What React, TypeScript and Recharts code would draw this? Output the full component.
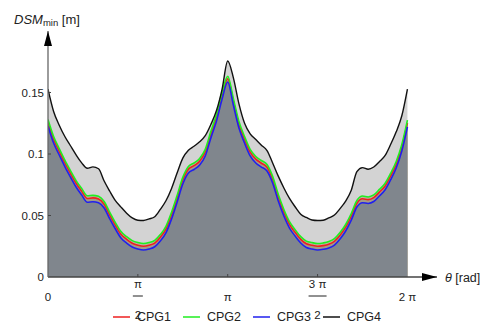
import { Area, ComposedChart, Legend, Line, XAxis, YAxis } from "recharts";

// DSM_min [m] sampled every π/32 over 0..2π (65 points)
const cpg4 = [
  0.1528, 0.1346, 0.1234, 0.1142, 0.1067, 0.0993, 0.0928, 0.0884, 0.0895,
  0.088, 0.078, 0.0697, 0.0621, 0.0568, 0.0519, 0.048, 0.0461, 0.0459,
  0.0472, 0.049, 0.055, 0.062, 0.072, 0.0847, 0.0966, 0.103, 0.1063, 0.1099,
  0.1149, 0.124, 0.1353, 0.1528, 0.1756, 0.1621, 0.1408, 0.125, 0.1164,
  0.1118, 0.1072, 0.1028, 0.0927, 0.082, 0.0724, 0.0639, 0.0571, 0.0511,
  0.0484, 0.0463, 0.0459, 0.0461, 0.048, 0.0504, 0.0556, 0.0617, 0.0706,
  0.0857, 0.0889, 0.0876, 0.0894, 0.0937, 0.0986, 0.1077, 0.118, 0.1311,
  0.1528,
];

const cpg3 = [
  0.1228, 0.1089, 0.0992, 0.0898, 0.0813, 0.0732, 0.0667, 0.0608, 0.0612,
  0.0603, 0.0561, 0.0472, 0.039, 0.0317, 0.0276, 0.0244, 0.0228, 0.022,
  0.0228, 0.0246, 0.0293, 0.0358, 0.0472, 0.061, 0.0756, 0.0846, 0.0874,
  0.0911, 0.0984, 0.113, 0.1268, 0.1447, 0.1585, 0.1398, 0.1211, 0.1089,
  0.0984, 0.0927, 0.0894, 0.0862, 0.0764, 0.0618, 0.0496, 0.0398, 0.0333,
  0.0276, 0.024, 0.0228, 0.022, 0.0225, 0.0236, 0.026, 0.0309, 0.0374,
  0.0463, 0.0569, 0.0604, 0.0598, 0.0614, 0.0659, 0.0707, 0.0789, 0.0886,
  0.1024, 0.122,
];

const cpg1 = [
  0.1258, 0.112, 0.1022, 0.0928, 0.0843, 0.0762, 0.0697, 0.0638, 0.0643,
  0.0634, 0.0592, 0.0503, 0.042, 0.0347, 0.0306, 0.0274, 0.0258, 0.025,
  0.0258, 0.0276, 0.0323, 0.039, 0.0505, 0.0643, 0.0788, 0.0877, 0.0905,
  0.0942, 0.1016, 0.1162, 0.13, 0.1478, 0.1612, 0.143, 0.1243, 0.112,
  0.1015, 0.0958, 0.0925, 0.0893, 0.0796, 0.065, 0.0527, 0.0428, 0.0363,
  0.0306, 0.027, 0.0258, 0.025, 0.0255, 0.0266, 0.029, 0.0339, 0.0405,
  0.0494, 0.06, 0.0636, 0.0629, 0.0645, 0.069, 0.0738, 0.082, 0.0917,
  0.1055, 0.1252,
];

const cpg2 = [
  0.128, 0.1142, 0.1044, 0.095, 0.0865, 0.0784, 0.0719, 0.066, 0.0664,
  0.0656, 0.0614, 0.0525, 0.0442, 0.0369, 0.0328, 0.0296, 0.028, 0.0272,
  0.028, 0.0298, 0.0345, 0.0412, 0.0527, 0.0665, 0.081, 0.0899, 0.0927,
  0.0964, 0.1038, 0.1184, 0.1322, 0.15, 0.1632, 0.1452, 0.1265, 0.1142,
  0.1037, 0.098, 0.0947, 0.0915, 0.0818, 0.0672, 0.0549, 0.045, 0.0385,
  0.0328, 0.0292, 0.028, 0.0272, 0.0277, 0.0288, 0.0312, 0.0361, 0.0427,
  0.0516, 0.0622, 0.0658, 0.0651, 0.0667, 0.0712, 0.076, 0.0842, 0.0939,
  0.1077, 0.1275,
];

const theta = cpg4.map((_, i) => (i * Math.PI) / 32);

const xTicks = [0, Math.PI / 2, Math.PI, (3 * Math.PI) / 2, 2 * Math.PI];
const xTickLabels = [
  { num: "0" },
  { num: "π", den: "2" },
  { num: "π" },
  { num: "3 π", den: "2" },
  { num: "2 π" },
];
const yTicks = [0, 0.05, 0.1, 0.15];

const data = theta.map((t, i) => ({
  theta: t,
  cpg1: cpg1[i],
  cpg2: cpg2[i],
  cpg3: cpg3[i],
  cpg4: cpg4[i],
}));

const FONT = '"Liberation Sans", Arial, sans-serif';
const TEXT = "#222";

function XTick({ x, y, index }: any) {
  const l = xTickLabels[index];
  if (!l) return null;
  return (
    <g fontFamily={FONT} fontSize={11.5} fill={TEXT}>
      {index > 0 && index < 4 && (
        <line x1={x} x2={x} y1={y - 3} y2={y} stroke="#444" />
      )}
      {l.den ? (
        <>
          <text x={x} y={y + 11} textAnchor="middle">
            {l.num}
          </text>
          <line
            x1={x - (l.num.length > 1 ? 9 : 5)}
            x2={x + (l.num.length > 1 ? 9 : 5)}
            y1={y + 19}
            y2={y + 19}
            stroke={TEXT}
            strokeWidth={1}
          />
          <text x={x} y={y + 42} textAnchor="middle">
            {l.den}
          </text>
        </>
      ) : (
        <text x={x} y={y + 24} textAnchor="middle">
          {l.num}
        </text>
      )}
    </g>
  );
}

function YTick({ x, y, payload }: any) {
  return (
    <g fontFamily={FONT} fontSize={11.5} fill={TEXT}>
      {payload.value > 0 && (
        <line x1={x} x2={x + 3} y1={y} y2={y} stroke="#444" />
      )}
      <text x={x - 4} y={y + 4} textAnchor="end">
        {String(payload.value)}
      </text>
    </g>
  );
}

function LegendBox({ payload }: any) {
  const items = (payload || []).filter((e: any) => e.type !== "none");
  return (
    <div style={{ display: "flex", fontFamily: FONT, fontSize: 12.5, color: TEXT }}>
      {items.map((e: any) => (
        <div
          key={e.value}
          style={{ width: 70, display: "flex", alignItems: "center" }}
        >
          <svg width={17} height={10} style={{ marginRight: 7 }}>
            <line x1={0} x2={17} y1={5} y2={5} stroke={e.color} strokeWidth={2} strokeOpacity={0.75} />
          </svg>
          <span>{e.value}</span>
        </div>
      ))}
    </div>
  );
}

export default function App() {
  return (
    <div style={{ position: "absolute", left: 0, top: 0, width: 485, height: 325, background: "#fff" }}>
      <ComposedChart
        width={485}
        height={325}
        data={data}
        margin={{ top: 31, right: 48, bottom: 47, left: 47 }}
      >
        <XAxis
          type="number"
          dataKey="theta"
          domain={[0, 6.8]}
          ticks={xTicks}
          tick={<XTick />}
          tickLine={false}
          tickSize={0}
          tickMargin={0}
          height={1}
          axisLine={{ stroke: "#444", strokeWidth: 1.3 }}
          interval={0}
          allowDataOverflow
        />
        <YAxis
          type="number"
          domain={[0, 0.2]}
          ticks={yTicks}
          tick={<YTick />}
          tickLine={false}
          tickSize={0}
          tickMargin={0}
          width={1}
          axisLine={{ stroke: "#666", strokeWidth: 1.3 }}
          interval={0}
          allowDataOverflow
        />
        <Area type="monotone" dataKey="cpg4" stroke="none" fill="#d3d3d3" fillOpacity={1} legendType="none" isAnimationActive={false} />
        <Area type="monotone" dataKey="cpg2" stroke="none" fill="#b9b3a0" fillOpacity={1} legendType="none" isAnimationActive={false} />
        <Area type="monotone" dataKey="cpg1" stroke="none" fill="#a39b86" fillOpacity={1} legendType="none" isAnimationActive={false} />
        <Area type="monotone" dataKey="cpg3" stroke="none" fill="#80868d" fillOpacity={1} legendType="none" isAnimationActive={false} />
        <Line type="monotone" dataKey="cpg1" name="CPG1" stroke="#ee2020" strokeWidth={1.6} dot={false} activeDot={false} isAnimationActive={false} />
        <Line type="monotone" dataKey="cpg2" name="CPG2" stroke="#20ee20" strokeWidth={1.6} dot={false} activeDot={false} isAnimationActive={false} />
        <Line type="monotone" dataKey="cpg3" name="CPG3" stroke="#2020ee" strokeWidth={1.6} dot={false} activeDot={false} isAnimationActive={false} />
        <Line type="monotone" dataKey="cpg4" name="CPG4" stroke="#111" strokeWidth={1.4} dot={false} activeDot={false} isAnimationActive={false} />
        <Legend
          layout="horizontal"
          verticalAlign="middle"
          align="center"
          content={<LegendBox />}
          wrapperStyle={{ top: 310, left: 113, width: 300, height: 16 }}
        />
      </ComposedChart>
      <svg
        width={485}
        height={325}
        style={{ position: "absolute", left: 0, top: 0, pointerEvents: "none" }}
      >
        <polygon points="48,31 44,46 52,46" fill="#000" />
        <polygon points="437,277 422,273 422,281" fill="#000" />
        <text x={14} y={24} fontFamily={FONT} fontSize={13} fill={TEXT}>
          <tspan fontStyle="italic">DSM</tspan>
          <tspan fontSize={9.5} dy={1.5}>min</tspan>
          <tspan dy={-1.5}> [m]</tspan>
        </text>
        <text x={445} y={282} fontFamily={FONT} fontSize={12.5} fill={TEXT}>
          <tspan fontStyle="italic">θ</tspan>
          <tspan> [rad]</tspan>
        </text>
      </svg>
    </div>
  );
}
